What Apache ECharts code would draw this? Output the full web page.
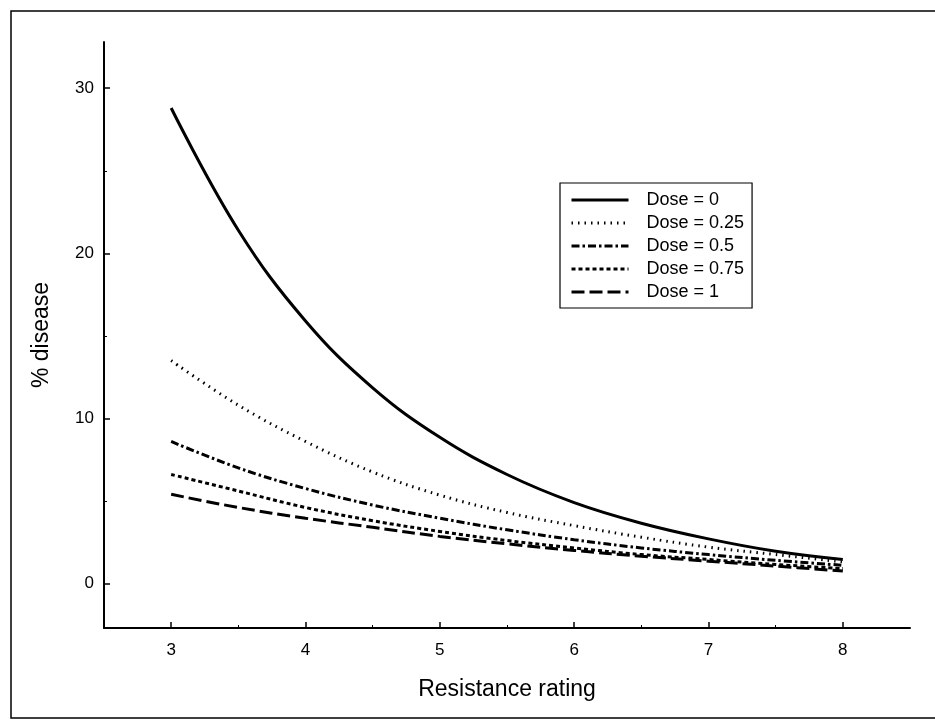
<!DOCTYPE html>
<html>
<head>
<meta charset="utf-8">
<script src="https://cdn.jsdelivr.net/npm/echarts@6/dist/echarts.min.js"></script>
<style>
html,body{margin:0;padding:0;background:#fff;}
#chart{width:935px;height:725px;}
</style>
</head>
<body>
<div id="chart"></div>
<script>
// Data
var resistance = [3, 3.5, 4, 4.5, 5, 5.5, 6, 6.5, 7, 7.5, 8];
var dose0    = [28.8, 21.4, 15.9, 11.85, 8.85, 6.6, 4.9, 3.65, 2.7, 1.95, 1.45];
var dose025  = [13.5, 10.8, 8.6, 6.75, 5.35, 4.3, 3.5, 2.8, 2.2, 1.75, 1.3];
var dose05   = [8.6, 7.0, 5.75, 4.75, 3.95, 3.25, 2.65, 2.15, 1.75, 1.4, 1.1];
var dose075  = [6.6, 5.6, 4.6, 3.8, 3.15, 2.6, 2.15, 1.75, 1.45, 1.15, 0.9];
var dose1    = [5.4, 4.6, 3.95, 3.4, 2.85, 2.4, 2.0, 1.65, 1.35, 1.05, 0.75];
var seriesNames = ['Dose = 0', 'Dose = 0.25', 'Dose = 0.5', 'Dose = 0.75', 'Dose = 1'];
var xTicks = [3, 4, 5, 6, 7, 8];
var xMinorTicks = [3.5, 4.5, 5.5, 6.5, 7.5];
var yTicks = [0, 10, 20, 30];
var yMinorTicks = [5, 15, 25];

function pairs(ys) { return resistance.map(function (x, i) { return [x, ys[i]]; }); }

var styles = [
  { width: 3, type: 'solid' },
  { width: 3, type: [1.5, 5] },
  { width: 3, type: [8, 3, 2.5, 3] },
  { width: 3, type: [4, 3] },
  { width: 3, type: [13, 5] }
];
var allData = [dose0, dose025, dose05, dose075, dose1];

var font = 'Liberation Sans, Arial, sans-serif';
var chart = echarts.init(document.getElementById('chart'), null, { renderer: 'canvas' });
chart.setOption({
  backgroundColor: '#fff',
  animation: false,
  graphic: [{
    type: 'rect', shape: { x: 11, y: 11, width: 940, height: 707 },
    style: { fill: 'none', stroke: '#000', lineWidth: 1.5 }, silent: true
  }],
  grid: { left: 104, right: 25, top: 42, bottom: 97 },
  legend: {
    orient: 'vertical', left: 560, top: 183,
    data: seriesNames.map(function (n, i) {
      return { name: n, lineStyle: { width: styles[i].width, type: styles[i].type, color: '#000' } };
    }),
    itemWidth: 57, itemHeight: 14, itemGap: 5,
    padding: [8, 8, 7, 10],
    borderColor: '#000', borderWidth: 1.2,
    itemStyle: { opacity: 0, borderWidth: 0 },
    textStyle: { fontFamily: font, fontSize: 18, color: '#000', padding: [0, 0, 0, 13] }
  },
  xAxis: [{
    type: 'value', min: 2.5, max: 8.5,
    name: 'Resistance rating', nameLocation: 'middle', nameGap: 50,
    nameTextStyle: { fontFamily: font, fontSize: 23, color: '#000' },
    axisLine: { show: true, onZero: false, lineStyle: { color: '#000', width: 2 } },
    axisTick: { show: true, inside: true, length: 6, customValues: xTicks, lineStyle: { color: '#000', width: 1.5 } },
    axisLabel: { customValues: xTicks, margin: 14, fontFamily: font, fontSize: 17, color: '#000' },
    splitLine: { show: false }
  }, {
    type: 'value', min: 2.5, max: 8.5, position: 'bottom',
    axisLine: { show: false, onZero: false },
    axisTick: { show: true, inside: true, length: 3, customValues: xMinorTicks, lineStyle: { color: '#000', width: 1 } },
    axisLabel: { show: false },
    splitLine: { show: false }
  }],
  yAxis: [{
    type: 'value', min: -2.7, max: 32.8,
    name: '% disease', nameLocation: 'middle', nameGap: 51, nameRotate: 90,
    nameTextStyle: { fontFamily: font, fontSize: 23, color: '#000' },
    axisLine: { show: true, onZero: false, lineStyle: { color: '#000', width: 2 } },
    axisTick: { show: true, inside: true, length: 6, customValues: yTicks, lineStyle: { color: '#000', width: 1.5 } },
    axisLabel: { customValues: yTicks, margin: 10, fontFamily: font, fontSize: 17, color: '#000' },
    splitLine: { show: false }
  }, {
    type: 'value', min: -2.7, max: 32.8, position: 'left',
    axisLine: { show: false, onZero: false },
    axisTick: { show: true, inside: true, length: 3, customValues: yMinorTicks, lineStyle: { color: '#000', width: 1 } },
    axisLabel: { show: false },
    splitLine: { show: false }
  }],
  series: allData.map(function (d, i) {
    return {
      name: seriesNames[i], type: 'line', smooth: 0.4, symbol: 'none',
      xAxisIndex: 0, yAxisIndex: 0,
      data: pairs(d),
      lineStyle: { color: '#000', width: styles[i].width, type: styles[i].type },
      itemStyle: { color: '#000' }
    };
  })
});
</script>
</body>
</html>
